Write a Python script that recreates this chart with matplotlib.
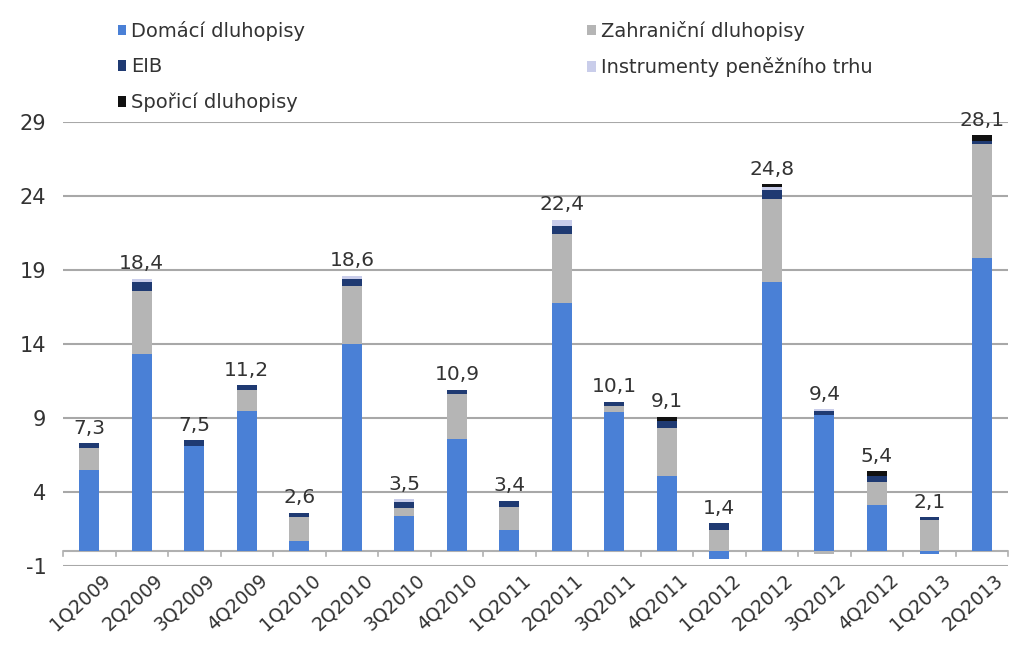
import matplotlib.pyplot as plt
import matplotlib.transforms as mtransforms
import numpy as np

plt.rcParams['font.family'] = 'DejaVu Sans'
plt.rcParams['axes.unicode_minus'] = False

quarters = ['1Q2009', '2Q2009', '3Q2009', '4Q2009', '1Q2010', '2Q2010',
            '3Q2010', '4Q2010', '1Q2011', '2Q2011', '3Q2011', '4Q2011',
            '1Q2012', '2Q2012', '3Q2012', '4Q2012', '1Q2013', '2Q2013']

domaci = [5.5, 13.3, 7.1, 9.5, 0.7, 14.0, 2.4, 7.6, 1.4, 16.8, 9.4, 5.1,
          -0.5, 18.2, 9.2, 3.1, -0.2, 19.8]
zahranicni = [1.5, 4.3, 0.0, 1.4, 1.6, 3.9, 0.5, 3.0, 1.6, 4.6, 0.4, 3.2,
              1.4, 5.6, -0.2, 1.6, 2.1, 7.7]
eib = [0.3, 0.6, 0.4, 0.3, 0.3, 0.5, 0.4, 0.3, 0.4, 0.6, 0.3, 0.5,
       0.5, 0.6, 0.3, 0.4, 0.2, 0.2]
instrumenty = [0.0, 0.2, 0.0, 0.0, 0.0, 0.2, 0.2, 0.0, 0.0, 0.4, 0.0, 0.0,
               0.0, 0.2, 0.1, 0.0, 0.0, 0.0]
sporici = [0.0, 0.0, 0.0, 0.0, 0.0, 0.0, 0.0, 0.0, 0.0, 0.0, 0.0, 0.3,
           0.0, 0.2, 0.0, 0.3, 0.0, 0.4]
totals = [7.3, 18.4, 7.5, 11.2, 2.6, 18.6, 3.5, 10.9, 3.4, 22.4, 10.1, 9.1,
          1.4, 24.8, 9.4, 5.4, 2.1, 28.1]

series = [
    ('Domácí dluhopisy', domaci, '#4a80d6'),
    ('Zahraniční dluhopisy', zahranicni, '#b5b5b5'),
    ('EIB', eib, '#1f3a72'),
    ('Instrumenty peněžního trhu', instrumenty, '#c9cdea'),
    ('Spořicí dluhopisy', sporici, '#111111'),
]

fig = plt.figure(figsize=(10.11, 6.64), dpi=100)
ax = fig.add_axes([0.0623, 0.1476, 0.935, 0.6687])

x = np.arange(len(quarters))
pos_base = np.zeros(len(quarters))
neg_base = np.zeros(len(quarters))
handles = {}
for name, vals, col in series:
    v = np.array(vals)
    bottom = np.where(v >= 0, pos_base, neg_base)
    b = ax.bar(x, v, 0.38, bottom=bottom, color=col, zorder=3, label=name)
    handles[name] = b
    pos_base += np.where(v >= 0, v, 0)
    neg_base += np.where(v < 0, v, 0)

for i, t in enumerate(totals):
    ax.annotate(f'{t:.1f}'.replace('.', ','), (x[i], pos_base[i]),
                xytext=(0, 4), textcoords='offset points',
                ha='center', va='bottom', fontsize=14.5, color='#333333', zorder=4)

ax.set_xlim(-0.5, len(quarters) - 0.5)
ax.set_ylim(-1, 29)
ax.set_yticks(np.arange(-1, 30, 5))
ax.yaxis.grid(True, color='#a8a8a8', linewidth=1.5, zorder=0)
ax.axhline(0, color='#b0b0b0', linewidth=1.5, zorder=2)
for s in ax.spines.values():
    s.set_visible(False)

ax.set_xticks(x)
ax.set_xticklabels(quarters, rotation=42, ha='right', rotation_mode='anchor',
                   fontsize=13.5, color='#333333')
ax.tick_params(axis='x', which='major', length=0, pad=3)
shift = mtransforms.ScaledTranslation(12 / 100, 0, fig.dpi_scale_trans)
for lab in ax.get_xticklabels():
    lab.set_transform(lab.get_transform() + shift)
for xb in np.arange(-0.5, len(quarters), 1):
    ax.plot([xb, xb], [0, -0.35], color='#b0b0b0', linewidth=1.2, zorder=2,
            clip_on=False)
ax.tick_params(axis='y', length=0, pad=12, labelsize=15, labelcolor='#333333')

order = ['Domácí dluhopisy', 'EIB', 'Spořicí dluhopisy',
         'Zahraniční dluhopisy', 'Instrumenty peněžního trhu']
leg = fig.legend([handles[n] for n in order], order, ncol=2,
                 loc='upper left', bbox_to_anchor=(0.099, 0.995),
                 frameon=False, fontsize=14, handlelength=0.45,
                 handleheight=0.45, handletextpad=0.25, columnspacing=14.5,
                 labelspacing=0.85)
for t in leg.get_texts():
    t.set_color('#333333')

fig.savefig('out.png', dpi=100)
